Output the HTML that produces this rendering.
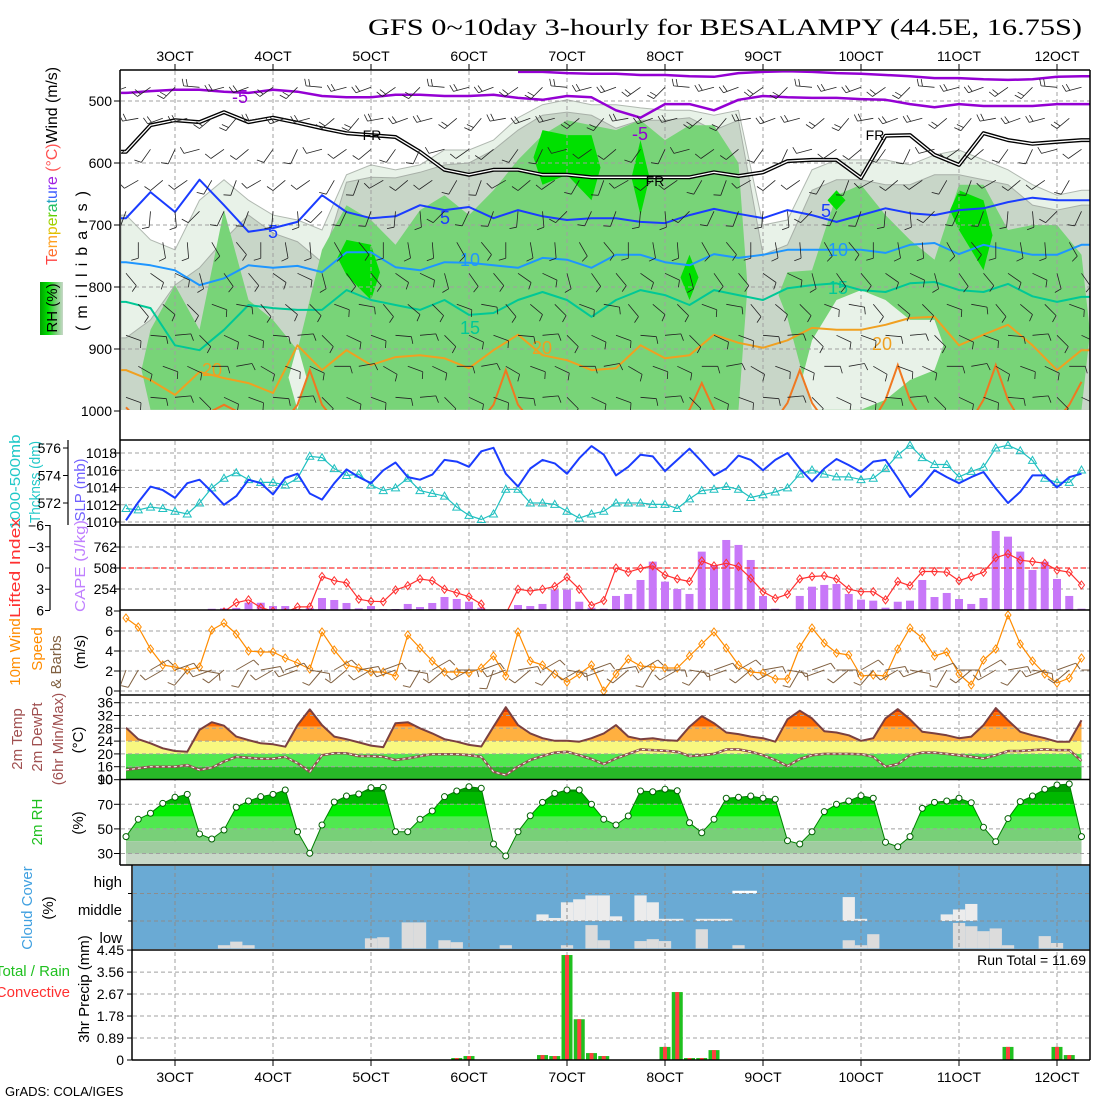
<!DOCTYPE html>
<html><head><meta charset="utf-8"><title>GFS meteogram BESALAMPY</title>
<style>
html,body{margin:0;padding:0;background:#fff;}
svg{display:block;font-family:"Liberation Sans",sans-serif;}
</style></head>
<body>
<svg id="chart" xmlns="http://www.w3.org/2000/svg" width="1100" height="1100" viewBox="0 0 1100 1100">
<defs>
<clipPath id="cUpper"><rect x="121" y="71" width="969" height="339"/></clipPath>
<clipPath id="cSLP"><rect x="121" y="441" width="969" height="84"/></clipPath>
<clipPath id="cCape"><rect x="121" y="526" width="969" height="84"/></clipPath>
<clipPath id="cWind"><rect x="121" y="611" width="969" height="84"/></clipPath>
<clipPath id="cTemp"><rect x="121" y="696" width="969" height="83"/></clipPath>
<clipPath id="cRH"><rect x="121" y="780" width="969" height="85"/></clipPath>
<clipPath id="cPrec"><rect x="133" y="951" width="957" height="109"/></clipPath>
<linearGradient id="rhBox" x1="0" x2="1" y1="0" y2="0">
<stop offset="0" stop-color="#00a000"/><stop offset="0.35" stop-color="#00e000"/><stop offset="0.7" stop-color="#78d078"/><stop offset="1" stop-color="#c8d8c8"/></linearGradient>
</defs>
<rect x="0" y="0" width="1100" height="1100" fill="#fff"/>
<text x="368" y="35" font-family="Liberation Serif, serif" font-size="23" textLength="714" lengthAdjust="spacingAndGlyphs">GFS 0~10day 3-hourly for BESALAMPY (44.5E, 16.75S)</text>

<!-- left labels -->
<text x="57" y="166" transform="rotate(-90 57 166)" text-anchor="middle" font-size="16" textLength="198" lengthAdjust="spacingAndGlyphs"><tspan fill="#ff4040">T</tspan><tspan fill="#ff7030">e</tspan><tspan fill="#ffa020">m</tspan><tspan fill="#e0c000">p</tspan><tspan fill="#a0d000">e</tspan><tspan fill="#60d000">r</tspan><tspan fill="#20c060">a</tspan><tspan fill="#20a0c0">t</tspan><tspan fill="#4060ff">u</tspan><tspan fill="#8040ff">r</tspan><tspan fill="#a020e0">e</tspan><tspan fill="#ff5050"> (°C)</tspan><tspan fill="#000">Wind (m/s)</tspan></text>
<text x="87" y="261" transform="rotate(-90 87 261)" text-anchor="middle" font-size="16" textLength="140" lengthAdjust="spacing">(millibars)</text>
<rect x="40" y="282" width="23" height="53" fill="url(#rhBox)"/>
<text x="57" y="308" transform="rotate(-90 57 308)" text-anchor="middle" font-size="15">RH (%)</text>

<text x="20" y="482" transform="rotate(-90 20 482)" text-anchor="middle" font-size="15" fill="#20c8c8" textLength="95" lengthAdjust="spacingAndGlyphs">1000-500mb</text>
<text x="40" y="482" transform="rotate(-90 40 482)" text-anchor="middle" font-size="15" fill="#20c8c8" textLength="82" lengthAdjust="spacingAndGlyphs">Thcknss (dm)</text>
<text x="85" y="490" transform="rotate(-90 85 490)" text-anchor="middle" font-size="15" fill="#7060ff">SLP (mb)</text>
<text x="20" y="568" transform="rotate(-90 20 568)" text-anchor="middle" font-size="15" fill="#ff3030" textLength="100" lengthAdjust="spacingAndGlyphs">Lifted Index</text>
<text x="85" y="566" transform="rotate(-90 85 566)" text-anchor="middle" font-size="15" fill="#c080ff" textLength="92" lengthAdjust="spacingAndGlyphs">CAPE (J/kg)</text>
<text x="20" y="652" transform="rotate(-90 20 652)" text-anchor="middle" font-size="15" fill="#ff8c00">10m Wind</text>
<text x="42" y="649" transform="rotate(-90 42 649)" text-anchor="middle" font-size="15" fill="#ff8c00">Speed</text>
<text x="61" y="662" transform="rotate(-90 61 662)" text-anchor="middle" font-size="15" fill="#806040">&amp; Barbs</text>
<text x="85" y="652" transform="rotate(-90 85 652)" text-anchor="middle" font-size="15">(m/s)</text>
<text x="22" y="739" transform="rotate(-90 22 739)" text-anchor="middle" font-size="15" fill="#a05050">2m Temp</text>
<text x="42" y="737" transform="rotate(-90 42 737)" text-anchor="middle" font-size="15" fill="#a05050">2m DewPt</text>
<text x="63" y="739" transform="rotate(-90 63 739)" text-anchor="middle" font-size="15" fill="#a05050">(6hr Min/Max)</text>
<text x="83" y="740" transform="rotate(-90 83 740)" text-anchor="middle" font-size="15">(°C)</text>
<text x="42" y="822" transform="rotate(-90 42 822)" text-anchor="middle" font-size="15" fill="#20c020">2m RH</text>
<text x="83" y="823" transform="rotate(-90 83 823)" text-anchor="middle" font-size="15">(%)</text>
<text x="32" y="908" transform="rotate(-90 32 908)" text-anchor="middle" font-size="15" fill="#40a0e0">Cloud Cover</text>
<text x="53" y="908" transform="rotate(-90 53 908)" text-anchor="middle" font-size="15">(%)</text>
<text x="70" y="976" text-anchor="end" font-size="15" fill="#20c020">Total / Rain</text>
<text x="70" y="997" text-anchor="end" font-size="15" fill="#ff3030">Convective</text>
<text x="89" y="989" transform="rotate(-90 89 989)" text-anchor="middle" font-size="15">3hr Precip (mm)</text>
<text x="5" y="1096" font-size="13">GrADS: COLA/IGES</text>

<g id="gUpper" clip-path="url(#cUpper)"></g>
<g id="gGrid"></g>
<g id="gUpperLines" clip-path="url(#cUpper)"></g>
<g id="gBarbs" clip-path="url(#cUpper)"></g>
<g id="gLower"></g>
<g id="gSfcBarbs" clip-path="url(#cWind)"></g>
<g id="gAxes"></g>
</svg>
<script>
// ---------- data ----------
const dates = ["3OCT","4OCT","5OCT","6OCT","7OCT","8OCT","9OCT","10OCT","11OCT","12OCT"];
const slp = [1010.2,1012.3,1014.1,1013.7,1012.8,1014.5,1014.9,1013.5,1012.0,1013.0,
1014.9,1014.5,1013.2,1015.1,1015.6,1013.3,1012.6,1014.5,1016.1,1015.2,
1014.5,1016.0,1016.9,1015.2,1014.9,1015.5,1017.2,1017.0,1016.4,1018.2,
1018.6,1015.6,1014.1,1016.2,1017.2,1016.8,1015.6,1017.4,1018.8,1017.8,
1015.4,1016.4,1017.8,1017.6,1015.9,1017.2,1018.5,1017.0,1015.4,1016.2,
1017.7,1017.2,1016.0,1017.2,1018.0,1016.2,1014.7,1016.2,1017.3,1016.6,
1015.8,1017.0,1017.2,1015.1,1012.9,1014.3,1016.0,1015.2,1014.5,1015.2,
1015.8,1013.9,1012.2,1013.5,1015.4,1015.4,1014.0,1015.2,1015.6];
const thick = [571.6,571.5,571.7,571.6,571.4,571.2,572.0,573.1,573.8,574.2,
573.7,573.5,573.5,573.3,573.8,575.4,575.3,574.5,574.0,574.1,
573.3,572.9,573.1,573.8,572.9,572.7,572.5,571.7,571.1,570.8,
571.2,573.0,573.0,572.0,572.0,571.9,571.4,570.9,571.2,571.4,
572.0,572.0,572.0,571.9,571.9,571.6,572.3,572.9,573.0,573.2,
573.0,572.4,572.6,572.8,573.1,574.1,574.4,574.1,573.9,573.9,
573.7,573.8,574.5,575.5,576.2,575.3,574.8,574.8,573.9,574.3,
574.6,576.0,576.2,575.8,575.1,573.8,573.5,573.5,574.4];
const cape = [0,0,0,0,0,0,0,15,20,25,
88,88,48,48,12,25,145,121,85,20,
48,12,12,73,36,85,157,133,100,28,
0,0,60,48,73,246,246,100,28,16,
170,194,363,585,343,254,194,706,545,847,
787,605,170,16,0,170,282,303,315,194,
125,113,28,100,113,363,157,206,133,73,
145,956,887,706,484,585,375,170,16];
const li = [7,7,7,7,7,7,7,7,6.2,4.9,
4.5,5.6,6.1,6.3,5.5,5.5,1.2,1.8,2.1,4.4,
4.7,4.75,3.1,2.5,1.55,1.8,3.0,3.5,4.05,5.1,
8,6.5,3.0,3.25,3.0,2.6,1.3,3.0,5.3,4.6,
0,0.6,0.05,-0.3,1.0,1.55,1.9,-1.0,-0.3,-0.66,
-0.2,1.46,3.35,4.3,3.7,1.55,1.2,1.1,1.55,3.0,
3.35,3.35,4.5,1.9,2.5,0.5,0.5,0.6,1.8,1.2,
0.6,-1.46,-2.0,-1.1,-0.9,-0.66,0.3,0.6,2.4];
const wspd = [7.3,6.4,4.2,2.6,2.4,2.1,2.4,6.1,6.8,5.7,
4.0,3.9,3.9,3.3,2.8,2.2,5.9,4.1,2.6,2.3,
1.9,1.9,1.5,5.6,4.3,3.0,1.9,1.9,1.8,2.3,
3.5,1.5,5.9,3.0,2.6,1.7,0.9,1.7,2.6,0.0,
1.7,3.2,2.5,2.4,2.3,2.3,3.5,4.7,5.9,4.3,
2.6,1.9,1.8,1.2,1.2,4.4,6.3,4.8,3.8,3.6,
1.5,1.6,1.5,4.2,6.3,5.3,3.5,3.9,1.7,0.6,
3.1,4.2,7.6,4.7,3.0,1.7,0.8,1.3,3.3];
const wdir = [200,210,60,240,70,220,100,250,230,60,210,80,240,70,250,100,220,60,230,80,
240,70,250,100,210,60,230,90,240,70,200,250,80,230,60,220,100,240,70,250,
80,230,60,210,90,240,100,220,70,250,60,230,80,240,100,210,70,250,90,230,
60,220,80,240,100,250,70,210,90,230,60,240,80,220,100,250,70,230,90];
const temp = [28.2,24.6,23.3,21.75,20.9,20.7,27.5,29.9,28.8,25.4,
24.3,23.3,23.0,22.25,29.0,33.9,29.0,25.4,24.6,23.6,
22.6,22.1,29.6,29.9,28.0,26.4,24.6,23.8,22.8,22.3,
28.5,34.6,29.0,26.4,24.9,24.1,24.1,23.8,24.9,26.4,
29.0,25.4,24.6,24.9,24.3,24.1,28.5,31.8,29.6,26.7,
26.2,25.4,24.9,23.8,30.8,33.5,31.1,27.1,26.7,25.8,
24.1,24.9,31.1,34.0,30.8,26.9,26.4,25.8,24.9,25.4,
29.0,34.3,30.5,26.9,25.8,24.9,23.8,23.8,30.5];
const dewpt = [15.0,15.5,16.0,16.0,16.0,16.5,15.0,15.7,17.6,19.1,
18.8,18.5,18.5,19.1,17.1,14.4,19.6,20.2,20.2,19.3,
19.3,19.1,18.1,18.6,19.3,19.9,19.9,19.9,19.6,19.1,
14.4,13.4,16.0,18.1,19.3,20.4,20.7,19.6,18.4,16.8,
18.6,20.0,21.4,21.2,21.0,20.7,19.3,19.6,20.0,21.4,
21.4,20.7,19.6,18.1,16.2,18.4,19.6,20.0,20.0,20.0,
19.9,19.1,16.0,16.8,19.6,20.4,20.4,20.0,19.6,19.1,
18.6,19.6,20.9,20.9,21.2,21.4,21.2,21.2,17.8];
const rh = [43.7,57.8,62.7,70.8,75.7,78.1,45.9,41.8,49.1,67.6,
72.7,76.2,78.1,81.6,47.7,30.2,53.2,71.9,76.7,78.4,
83.5,83.8,47.7,47.7,57.8,64.6,76.2,80.8,84.3,83.0,
37.7,28.0,47.7,60.7,71.6,78.9,81.6,81.6,70.0,57.8,
53.2,60.5,80.8,80.2,82.2,81.0,55.0,46.9,57.8,74.9,
75.7,76.7,74.9,74.1,40.4,37.7,47.7,64.0,70.0,72.7,
77.0,74.9,39.1,35.5,43.7,66.7,71.6,72.7,74.9,71.3,
51.3,39.6,58.4,72.2,76.7,82.2,85.7,86.5,43.7];
const cloudLow = [0,0,0,0,0,0,0,0,12,25, 12,0,0,0,0,0,0,0,0,0, 37,41,0,95,95,0,30,23,0,0,
0,12,0,0,0,0,12,0,85,30, 0,0,27,34,27,0,0,70,0,0, 12,0,0,0,0,0,0,0,0,30,
12,52,0,0,0,0,0,0,93,81, 63,73,12,0,0,45,20,0,0];
const cloudMid = [0,0,0,0,0,0,0,0,0,0, 0,0,0,0,0,0,0,0,0,0, 0,0,0,0,0,0,0,0,0,0,
0,0,0,0,24,11,68,79,93,93, 17,0,93,68,8,8,0,8,8,8, 0,0,0,0,0,0,0,0,0,87,
8,0,0,0,0,0,0,24,42,62, 0,0,0,0,0,0,0,0,0];
const cloudHigh = [0,0,0,0,0,0,0,0,0,0, 0,0,0,0,0,0,0,0,0,0, 0,0,0,0,0,0,0,0,0,0,
0,0,0,0,0,0,0,0,0,0, 0,0,0,0,0,0,0,0,0,0, 10,10,0,0,0,0,0,0,0,0,
0,0,0,0,0,0,0,0,0,0, 0,0,0,0,0,0,0,0,0];
const precipTotal = [0,0,0,0,0,0,0,0,0,0, 0,0,0,0,0,0,0,0,0,0, 0,0,0,0,0,0,0,0.08,0.16,0,
0,0,0,0,0.2,0.16,4.25,1.65,0.28,0.16, 0,0,0,0,0.53,2.75,0.08,0.08,0.4,0, 0,0,0,0,0,0,0,0,0,0,
0,0,0,0,0,0,0,0,0,0, 0,0,0.53,0,0,0,0.53,0.2,0];
const precipConv = precipTotal.slice();
const runTotal = "11.69";
// upper panel: 6-hourly (even step) pressure values (mb)
const isoM10 = [null,null,null,null,null,null,null,null,null,null,null,null,null,null,null,null,453,453,455,456,456,458,458,460,461,455,453,452,453,455,456,458,460,463,463,465,466,465,461,460];
const isoM5 = [487,484,482,482,485,487,482,485,492,494,494,490,490,492,492,490,495,498,492,494,515,527,505,505,515,498,492,494,495,495,497,498,505,510,505,508,508,508,505,505];
const isoFR = [582,539,531,534,518,534,527,535,544,552,555,558,582,611,619,611,611,619,619,623,623,623,623,623,615,621,615,597,595,595,624,556,555,587,603,552,563,569,566,563];
const iso5 = [689,647,679,627,668,711,705,695,652,679,689,686,668,676,671,689,676,686,692,689,689,695,697,684,674,682,689,676,684,695,684,673,681,684,676,673,663,656,660,660];
const iso10 = [760,765,773,797,786,765,769,766,776,744,744,768,773,760,761,765,769,753,756,769,748,748,760,765,747,753,748,740,740,740,740,745,732,729,747,732,740,748,748,732];
const iso15 = [824,834,894,902,869,829,834,837,837,805,821,829,837,821,845,842,821,808,821,848,821,805,813,829,805,813,821,802,797,794,805,808,794,792,805,808,795,815,824,816];
const iso20 = [934,950,974,937,947,955,971,894,934,902,926,913,910,915,931,902,877,910,918,934,931,894,915,910,877,890,898,886,866,869,869,861,850,848,894,877,861,894,934,902];
// 25C isotherm, 3-hourly
const iso25 = [994,1015,1015,1015,1015,1015,1015,1000,990,1000,1015,1015,1015,1015,990,934,990,1015,1015,1015,
1015,1015,1015,1015,1015,1015,1015,1015,1015,1015,990,934,990,1015,1015,1015,1015,1015,1015,1015,
1015,1015,1015,1015,1015,1015,998,955,998,1015,1015,1015,1015,1015,987,934,987,1015,1015,1015,
1015,1015,982,926,982,1015,1015,1015,1015,1015,982,926,982,1015,1015,1015,1015,990,953];
const rhLightTop = [684,724,740,660,627,660,684,692,708,619,603,611,603,579,579,563,527,506,498,506,506,511,515,515,523,515,700,692,611,595,595,595,603,587,579,595,611,635,652,644];
const rhGrayTop = [882,853,797,769,724,684,713,727,760,631,623,624,615,603,600,579,547,523,518,523,544,531,531,527,547,531,748,732,644,627,627,635,635,619,619,627,635,668,676,668];
const rhGreenTop = [null,869,797,869,676,821,853,902,740,668,692,732,676,652,684,644,595,555,531,539,547,531,563,539,539,600,null,776,773,652,635,684,724,756,635,635,708,700,700,748];
const rhGreenBot = [null,998,998,998,998,998,998,998,998,998,998,998,998,998,998,998,998,998,998,998,998,998,998,998,998,998,null,850,998,998,998,998,998,998,998,998,998,998,998,998];
const rhBrightTop = [null,null,null,null,null,null,null,null,null,724,732,null,null,null,null,null,null,547,555,555,null,563,null,748,null,null,null,null,null,644,null,null,null,null,644,660,null,null,null,null];
const rhBrightBot = [null,null,null,null,null,null,null,null,null,781,821,null,null,null,null,null,null,635,619,660,null,684,null,821,null,null,null,null,null,676,null,null,null,null,708,773,null,null,null,null];
const dryTop = [null,null,null,null,null,null,null,894,null,null,null,null,null,null,null,null,null,null,null,null,null,null,null,null,null,null,null,null,886,821,805,821,853,853,null,null,null,null,null,null];
const dryBot = [null,null,null,null,null,null,null,998,null,null,null,null,null,null,null,null,null,null,null,null,null,null,null,null,null,null,null,null,998,998,998,982,950,934,null,null,null,null,null,null];
const barbRows = [465,515,565,615,665,715,765,815,865,915,965];
const barbRowDir = [250,240,230,220,200,160,140,120,110,100,110];
const barbRowFull = [2,2,1,1,1,1,1,1,1,1,1];
const barbJitter = [0,20,-15,10,-25,15,25,-10,5,-20];

// ---------- helpers ----------
const NS = 'http://www.w3.org/2000/svg';
function mk(tag, attrs, parent){const e=document.createElementNS(NS,tag);for(const k in attrs)e.setAttribute(k,attrs[k]);parent.appendChild(e);return e;}
const svg = document.getElementById('chart');
const defs = svg.querySelector('defs');
const X = i => 126 + 12.25*i;
const XE = j => X(2*j);
const YP = p => 101 + (p-500)*0.62;
const ySLP = v => 453 + (1018-v)*8.625;
const yTh = v => 448 + (576-v)*13.75;
const yCape = v => 610 - v*21/254;
const yLI = v => 568 + v*7.08;
const yWS = v => 691 - v*10;
const yT = v => 702.7 + (36-v)*3.2;
const yRH = v => 804.3 + (70-v)*1.23;
const yPr = v => 1060 - v*24.7;
const L = 121, R = 1090;

const gU = document.getElementById('gUpper');
const gG = document.getElementById('gGrid');
const gUL = document.getElementById('gUpperLines');
const gB = document.getElementById('gBarbs');
const gL = document.getElementById('gLower');
const gS = document.getElementById('gSfcBarbs');
const gA = document.getElementById('gAxes');

// ---------- upper panel fills ----------
function fullArea(arr, color, stroke, name){
  let d = 'M'+L+','+YP(1000)+' L'+L+','+YP(arr[0]);
  arr.forEach((p,j)=>{d+=' L'+XE(j)+','+YP(p);});
  d += ' L'+R+','+YP(arr[arr.length-1])+' L'+R+','+YP(1000)+' Z';
  const e = mk('path',{d:d,fill:color,stroke:stroke,'stroke-width':1},gU);
  
  
}
function bandArea(top, bot, color, name){
  let j=0;
  while(j<top.length){
    if(top[j]===null){j++;continue;}
    let s=j; while(j<top.length && top[j]!==null) j++;
    let e=j-1;
    const pts=[];
    const capL=(s===0)?L:XE(s)-9, capR=(e===top.length-1)?R:XE(e)+9;
    pts.push([capL,(YP(top[s])+YP(bot[s]))/2]);
    for(let k=s;k<=e;k++) pts.push([XE(k),YP(top[k])]);
    pts.push([capR,(YP(top[e])+YP(bot[e]))/2]);
    for(let k=e;k>=s;k--) pts.push([XE(k),YP(bot[k])]);
    const el = mk('polygon',{points:pts.map(p=>p[0].toFixed(1)+','+p[1].toFixed(1)).join(' '),fill:color},gU);
    
    
  }
}
fullArea(rhLightTop,'#e8f2e8','#b0b8b0','rh-light-region');
fullArea(rhGrayTop,'#c8d6c8','#a8b0a8','rh-gray-region');
bandArea(rhGreenTop,rhGreenBot,'#78d478','rh-green-region');
bandArea(dryTop,dryBot,'#e8f2e8','rh-dry-pocket');
bandArea(rhBrightTop,rhBrightBot,'#00e000','rh-bright-region');

// ---------- gridlines ----------
function dashed(x1,y1,x2,y2){const e=mk('line',{x1:x1,y1:y1,x2:x2,y2:y2,stroke:'#a0a0a0','stroke-width':1,'stroke-dasharray':'4,3'},gG);return e;}
dates.forEach((d,k)=>{
  const x = X(4+8*k);
  const segs=[[71,410],[441,1059]];
  segs.forEach(s=>{const e=dashed(x,s[0],x,s[1]);
    
    });
});
[500,600,700,800,900].forEach(p=>{const e=dashed(L,YP(p),R,YP(p));
  
  });
const hGrid = [].concat([1018,1016,1014,1012,1010].map(ySLP),[762,508,254].map(yCape),[2,4,6,0].map(yWS),
 [36,32,28,24,20,16].map(yT),[70,50,30].map(yRH));
hGrid.forEach(y=>{const e=dashed(L,y,R,y);
  
  });

// ---------- isotherms ----------
function isoLine(arr, color, w, name){
  const pts=[];
  arr.forEach((p,j)=>{ if(p!==null) pts.push([XE(j),YP(p)]); });
  if(arr[0]!==null) pts.unshift([L,YP(arr[0])]);
  pts.push([R,YP(arr[arr.length-1])]);
  const e = mk('polyline',{points:pts.map(p=>p[0].toFixed(1)+','+p[1].toFixed(1)).join(' '),fill:'none',stroke:color,'stroke-width':w,'stroke-linejoin':'round'},gUL);
  
  
  return pts;
}
isoLine(isoM10,'#9400d3',2.5,'isotherm-minus10');
isoLine(isoM5,'#9400d3',2.5,'isotherm-minus5');
isoLine(isoFR,'#000',4,'freezing-level-outer');
isoLine(isoFR,'#fff',1.3,'freezing-level-inner');
isoLine(iso5,'#1a3cff',2,'isotherm-5');
isoLine(iso10,'#1e96ff',2,'isotherm-10');
isoLine(iso15,'#00c896',2,'isotherm-15');
isoLine(iso20,'#f0a020',2,'isotherm-20');
{
  const pts = iso25.map((p,i)=>X(i).toFixed(1)+','+YP(p).toFixed(1)).join(' ');
  const e = mk('polyline',{points:pts,fill:'none',stroke:'#f07820','stroke-width':2},gUL);
  
  
}
const isoLabels = [['-5',240,103,'#9400d3'],['-5',640,140,'#9400d3'],['FR',372,140,'#000'],['FR',655,186,'#000'],['FR',875,140,'#000'],
 ['5',273,238,'#1a3cff'],['5',445,224,'#1a3cff'],['5',826,217,'#1a3cff'],['10',470,266,'#1e96ff'],['10',838,256,'#1e96ff'],
 ['15',470,334,'#00c896'],['15',838,294,'#00c896'],['20',212,376,'#f0a020'],['20',542,354,'#f0a020'],['20',882,350,'#f0a020']];
isoLabels.forEach(l=>{
  const e = mk('text',{x:l[1],y:l[2],fill:l[3],'font-size':(l[0]==='FR'?14:18),'text-anchor':'middle'},gUL);
  e.textContent = l[0];
  
  
});

// ---------- barbs ----------
function barb(parent, x, y, dir, len, nFull, color, w, name){
  const r = dir*Math.PI/180, ux=Math.sin(r), uy=-Math.cos(r);
  const x2=x+ux*len, y2=y+uy*len;
  let d='M'+x.toFixed(1)+','+y.toFixed(1)+' L'+x2.toFixed(1)+','+y2.toFixed(1);
  for(let k=0;k<nFull;k++){
    const bx=x2-ux*k*4, by=y2-uy*k*4;
    d+=' M'+bx.toFixed(1)+','+by.toFixed(1)+' L'+(bx-uy*7+ux*2).toFixed(1)+','+(by+ux*7+uy*2).toFixed(1);
  }
  const e = mk('path',{d:d,stroke:color,'stroke-width':w,fill:'none'},parent);
  
  
}
barbRows.forEach((p,r)=>{
  for(let i=(r%2); i<=78; i+=2){
    barb(gB, X(i), YP(p)+8, barbRowDir[r]+barbJitter[i%barbJitter.length], 16, barbRowFull[r], '#222', 0.8, 'upper-wind-barb');
  }
});

// ---------- SLP / thickness ----------
function poly(parent, vals, fx, color, w, name, clip, dash){
  const pts = vals.map((v,i)=>X(i).toFixed(1)+','+fx(v).toFixed(1)).join(' ');
  const a = {points:pts,fill:'none',stroke:color,'stroke-width':w,'stroke-linejoin':'round'};
  if(clip) a['clip-path']='url(#'+clip+')';
  if(dash) a['stroke-dasharray']=dash;
  const e = mk('polyline',a,parent);
  
  
}
poly(gL, thick, yTh, '#20c0c0', 1.2, 'thickness-line', 'cSLP');
thick.forEach((v,i)=>{
  const x=X(i), y=yTh(v);
  const e = mk('polygon',{points:x+','+(y-4)+' '+(x-4)+','+(y+3)+' '+(x+4)+','+(y+3),fill:'none',stroke:'#20c0c0','stroke-width':1,'clip-path':'url(#cSLP)'},gL);
  
  
});
poly(gL, slp, ySLP, '#1a3cff', 2, 'slp-line', 'cSLP');

// ---------- CAPE / LI ----------
cape.forEach((v,i)=>{
  if(v<=0) return;
  const e = mk('rect',{x:X(i)-4,y:yCape(v),width:8,height:610-yCape(v),fill:'#c878f8'},gL);
  
  
});
{ const e = mk('line',{x1:L,y1:yLI(0),x2:R,y2:yLI(0),stroke:'#ff3030','stroke-width':1.2,'stroke-dasharray':'5,3'},gL);
  
   }
poly(gL, li, yLI, '#ff3030', 1.2, 'lifted-index-line', 'cCape');
li.forEach((v,i)=>{
  const x=X(i), y=yLI(v);
  const e = mk('polygon',{points:x+','+(y-4)+' '+(x+3)+','+y+' '+x+','+(y+4)+' '+(x-3)+','+y,fill:'none',stroke:'#ff3030','stroke-width':1,'clip-path':'url(#cCape)'},gL);
  
  
});

// ---------- wind ----------
wdir.forEach((d,i)=>{ barb(gS, X(i), 670, d, 20, 1, '#806040', 1, 'surface-wind-barb'); });
poly(gL, wspd, yWS, '#ff8c00', 1.2, 'wind-speed-line', 'cWind');
wspd.forEach((v,i)=>{
  const x=X(i), y=yWS(v);
  const e = mk('polygon',{points:x+','+(y-4)+' '+(x+3)+','+y+' '+x+','+(y+4)+' '+(x-3)+','+y,fill:'none',stroke:'#ff8c00','stroke-width':1},gL);
  
  
});

// ---------- temperature ----------
{
  const cp = mk('clipPath',{id:'tArea'},defs);
  let d='M'+X(0)+',779';
  temp.forEach((v,i)=>{d+=' L'+X(i).toFixed(1)+','+yT(v).toFixed(1);});
  d+=' L'+X(78)+',779 Z';
  mk('path',{d:d},cp);
  const g = mk('g',{'clip-path':'url(#tArea)'},gL);
  
  
  const bands=[[60,33,'#e83000'],[33,28.5,'#ff6a00'],[28.5,24,'#ffb040'],[24,20,'#f8f880'],[20,16,'#50e850'],[16,0,'#28b828']];
  bands.forEach(b=>{
    const e = mk('rect',{x:L,y:yT(b[0]),width:R-L,height:yT(b[1])-yT(b[0]),fill:b[2]},g);
    
    
  });
  [36,32,28,24,20,16].forEach(t=>{
    const e = mk('line',{x1:L,y1:yT(t),x2:R,y2:yT(t),stroke:'#a0a0a0','stroke-dasharray':'4,3'},g);
    
    
  });
}
poly(gL, dewpt, yT, '#905050', 2.5, 'dewpoint-line', 'cTemp');
poly(gL, dewpt, yT, '#ffffff', 1, 'dewpoint-line-dash', 'cTemp', '3,3');
poly(gL, temp, yT, '#7a4040', 2, 'temperature-line', 'cTemp');

// ---------- RH ----------
{
  const cp = mk('clipPath',{id:'rArea'},defs);
  let d='M'+X(0)+',865';
  rh.forEach((v,i)=>{d+=' L'+X(i).toFixed(1)+','+yRH(v).toFixed(1);});
  d+=' L'+X(78)+',865 Z';
  mk('path',{d:d},cp);
  const g = mk('g',{'clip-path':'url(#rArea)'},gL);
  
  
  const bands=[[100,80,'#009900'],[80,70,'#00b800'],[70,60,'#00ee00'],[60,50,'#50e850'],[50,40,'#78d078'],[40,30,'#a0cca0'],[30,0,'#c8d8c8']];
  bands.forEach(b=>{
    const e = mk('rect',{x:L,y:yRH(b[0]),width:R-L,height:yRH(b[1])-yRH(b[0]),fill:b[2]},g);
    
    
  });
  [70,50,30].forEach(t=>{
    const e = mk('line',{x1:L,y1:yRH(t),x2:R,y2:yRH(t),stroke:'#a0a0a0','stroke-dasharray':'4,3'},g);
    
    
  });
}
poly(gL, rh, yRH, '#008000', 1, 'rh-line', 'cRH');
rh.forEach((v,i)=>{
  const e = mk('circle',{cx:X(i),cy:yRH(v),r:3,fill:'#fff',stroke:'#006000','stroke-width':1},gL);
  
  
});

// ---------- cloud ----------
{
  const e = mk('rect',{x:133,y:866,width:R-133,height:83,fill:'#6aaad4'},gL);
  
  
}
function cloudBars(vals, base, color, name){
  vals.forEach((v,i)=>{
    if(v<=0) return;
    const h = v*27.5/100;
    const e = mk('rect',{x:X(i)-6.1,y:base-h,width:12.25,height:h,fill:color},gL);
    
    
  });
}
cloudBars(cloudLow, 948.5, '#dcdcdc', 'low-cloud-bar');
cloudBars(cloudMid, 921, '#ececec', 'mid-cloud-bar');
cloudBars(cloudHigh, 893.5, '#ffffff', 'high-cloud-bar');
[893.5,921].forEach(y=>{
  const e = mk('line',{x1:133,y1:y,x2:R,y2:y,stroke:'#8c8c8c','stroke-dasharray':'4,3'},gL);
  
  
});
dates.forEach((d,k)=>{
  const x=X(4+8*k);
  const e = mk('line',{x1:x,y1:866,x2:x,y2:949,stroke:'#8c8c8c','stroke-dasharray':'4,3'},gL);
  
  
});

// ---------- precip ----------
[0.89,1.78,2.67,3.56].forEach(v=>{
  const e = mk('line',{x1:133,y1:yPr(v),x2:R,y2:yPr(v),stroke:'#a0a0a0','stroke-dasharray':'4,3'},gL);
  
  
});
precipTotal.forEach((v,i)=>{
  if(v<=0) return;
  const e = mk('rect',{x:X(i)-5.5,y:yPr(v),width:11,height:1060-yPr(v),fill:'#20c020','clip-path':'url(#cPrec)'},gL);
  
  
});
precipConv.forEach((v,i)=>{
  if(v<=0) return;
  const e = mk('rect',{x:X(i)-2,y:yPr(v),width:4,height:1060-yPr(v),fill:'#ff4040','clip-path':'url(#cPrec)'},gL);
  
  
});
{
  const e = mk('text',{x:1086,y:965,'text-anchor':'end','font-size':14},gL);
  e.textContent = 'Run Total = ' + runTotal;
  
  
}

// ---------- axes / frames ----------
function ln(x1,y1,x2,y2,w,name){const e=mk('line',{x1:x1,y1:y1,x2:x2,y2:y2,stroke:'#000','stroke-width':w||1.5},gA);
  
  }
[70,440,525,610,695,865].forEach(y=>ln(120,y,R,y,1.5,'panel-border'));
ln(120,779.5,R,779.5,1.5,'panel-border');
ln(132,950,R,950,1.5,'panel-border');
ln(132,1060,R,1060,1.5,'panel-border');
ln(120,70,120,865,1.5,'left-axis');
ln(132,865,132,1060,1.5,'left-axis');
ln(R,70,R,1060,1.5,'right-axis');
ln(68,440,68,525,1.2,'thickness-axis');
ln(50,525,50,610,1.2,'li-axis');
function lbl(x,y,t,name,anchor,size){const e=mk('text',{x:x,y:y,'text-anchor':anchor||'end','font-size':size||14},gA);e.textContent=t;
  
  }
dates.forEach((d,k)=>{
  const x=X(4+8*k);
  ln(x,64,x,70,1,'top-date-tick');
  ln(x,1060,x,1066,1,'bottom-date-tick');
  lbl(x,61,d,'top-date-label','middle',14);
  lbl(x,1082,d,'bottom-date-label','middle',14);
});
[500,600,700,800,900,1000].forEach(p=>{ln(114,YP(p),120,YP(p),1,'pressure-tick');lbl(112,YP(p)+5,String(p),'pressure-label');});
[1018,1016,1014,1012,1010].forEach(v=>{ln(114,ySLP(v),120,ySLP(v),1,'slp-tick');lbl(117,ySLP(v)+5,String(v),'slp-label');});
[576,574,572].forEach(v=>{ln(63,yTh(v),68,yTh(v),1,'thickness-tick');lbl(61,yTh(v)+5,String(v),'thickness-label');});
[762,508,254].forEach(v=>{ln(114,yCape(v),120,yCape(v),1,'cape-tick');lbl(117,yCape(v)+5,String(v),'cape-label');});
[-6,-3,0,3,6].forEach(v=>{ln(45,yLI(v),50,yLI(v),1,'li-tick');lbl(44,yLI(v)+5,String(v).replace('-','−'),'li-label');});
[0,2,4,6,8].forEach(v=>{ln(114,yWS(v),120,yWS(v),1,'wind-tick');lbl(113,yWS(v)+5,String(v),'wind-label');});
[36,32,28,24,20,16].forEach(v=>{ln(114,yT(v),120,yT(v),1,'temp-tick');lbl(113,yT(v)+5,String(v),'temp-label');});
lbl(113,784,'10','temp-label');
[90,70,50,30].forEach(v=>{ln(114,yRH(v),120,yRH(v),1,'rh-tick');lbl(113,yRH(v)+5,String(v),'rh-label');});
[['high',887],['middle',915],['low',943]].forEach(c=>lbl(122,c[1],c[0],'cloud-level-label','end',15));
ln(128,893.5,132,893.5,1,'cloud-tick');ln(128,921,132,921,1,'cloud-tick');
[0,0.89,1.78,2.67,3.56,4.45].forEach(v=>{ln(127,yPr(v),132,yPr(v),1,'precip-tick');lbl(124,yPr(v)+5,v===0?'0':v.toFixed(2),'precip-label');});
</script>
</body></html>
